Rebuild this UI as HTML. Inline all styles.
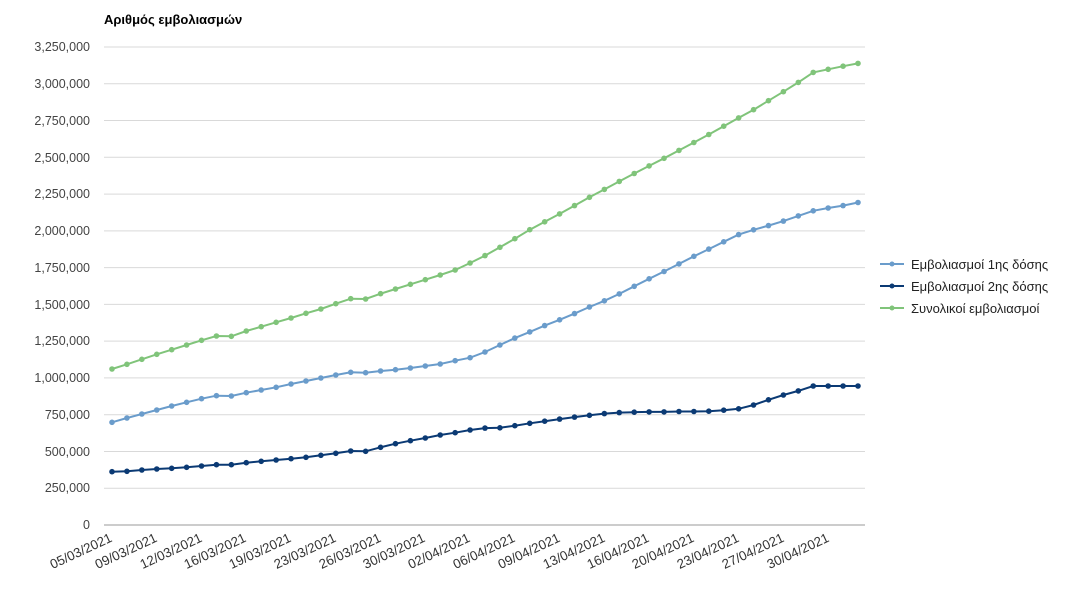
<!DOCTYPE html>
<html><head><meta charset="utf-8"><style>
body{margin:0;background:#fff;}
svg{display:block;font-family:"Liberation Sans",Arial,sans-serif;}
</style></head><body>
<svg id="s" width="1071" height="614" xmlns="http://www.w3.org/2000/svg">
<text x="104" y="24" font-size="13" font-weight="bold" fill="#000">Αριθμός εμβολιασμών</text>
<g id="grid" stroke="#d9d9d9" stroke-width="1"></g>
<g font-size="12.5" fill="#444" text-anchor="end">
<text x="90" y="51">3,250,000</text>
<text x="90" y="88">3,000,000</text>
<text x="90" y="125">2,750,000</text>
<text x="90" y="162">2,500,000</text>
<text x="90" y="198">2,250,000</text>
<text x="90" y="235">2,000,000</text>
<text x="90" y="272">1,750,000</text>
<text x="90" y="309">1,500,000</text>
<text x="90" y="345">1,250,000</text>
<text x="90" y="382">1,000,000</text>
<text x="90" y="419">750,000</text>
<text x="90" y="456">500,000</text>
<text x="90" y="492">250,000</text>
<text x="90" y="529">0</text>
</g>
<line x1="104" y1="525" x2="865" y2="525" stroke="#999" stroke-width="1"/>
<g id="xl" font-size="13.3" fill="#333" text-anchor="end">
<text transform="translate(113,541) rotate(-25)">05/03/2021</text>
<text transform="translate(158,541) rotate(-25)">09/03/2021</text>
<text transform="translate(203,541) rotate(-25)">12/03/2021</text>
<text transform="translate(247,541) rotate(-25)">16/03/2021</text>
<text transform="translate(292,541) rotate(-25)">19/03/2021</text>
<text transform="translate(337,541) rotate(-25)">23/03/2021</text>
<text transform="translate(382,541) rotate(-25)">26/03/2021</text>
<text transform="translate(426,541) rotate(-25)">30/03/2021</text>
<text transform="translate(471,541) rotate(-25)">02/04/2021</text>
<text transform="translate(516,541) rotate(-25)">06/04/2021</text>
<text transform="translate(561,541) rotate(-25)">09/04/2021</text>
<text transform="translate(606,541) rotate(-25)">13/04/2021</text>
<text transform="translate(650,541) rotate(-25)">16/04/2021</text>
<text transform="translate(695,541) rotate(-25)">20/04/2021</text>
<text transform="translate(740,541) rotate(-25)">23/04/2021</text>
<text transform="translate(785,541) rotate(-25)">27/04/2021</text>
<text transform="translate(830,541) rotate(-25)">30/04/2021</text>
</g>
<g id="series"></g>
<g font-size="13" fill="#222">
<line x1="880" y1="264" x2="904" y2="264" stroke="#6a9ccb" stroke-width="2"/><circle cx="892" cy="264" r="2.5" fill="#6a9ccb"/>
<text x="911" y="269">Εμβολιασμοί 1ης δόσης</text>
<line x1="880" y1="286" x2="904" y2="286" stroke="#0b3a74" stroke-width="2"/><circle cx="892" cy="286" r="2.5" fill="#0b3a74"/>
<text x="911" y="291">Εμβολιασμοί 2ης δόσης</text>
<line x1="880" y1="308" x2="904" y2="308" stroke="#80c47a" stroke-width="2"/><circle cx="892" cy="308" r="2.5" fill="#80c47a"/>
<text x="911" y="313">Συνολικοί εμβολιασμοί</text>
</g>
</svg>
<script>
var NS="http://www.w3.org/2000/svg";
var g=document.getElementById('grid');
for(var i=1;i<=13;i++){var y=525-i*36.77;var l=document.createElementNS(NS,'line');l.setAttribute('x1',104);l.setAttribute('x2',865);l.setAttribute('y1',y);l.setAttribute('y2',y);g.appendChild(l);}
var green=[369,364.3,359.3,354.3,349.7,345,340.3,336,336.3,331,326.7,322.3,318,313.3,309,303.7,298.7,299,293.7,289,284.3,279.7,275,270,263,255.6,247.3,238.7,229.7,221.8,213.9,205.6,197.3,189.4,181.4,173.5,165.9,158.3,150.4,142.5,134.5,126.2,117.9,109.7,100.7,91.7,82.4,72.4,69.3,66.2,63.4];
var blue=[422.3,418,414,410,406,402.3,398.7,395.7,396,392.7,390,387.3,384,381,378,375,372.3,372.7,371,369.7,368,366,364,360.7,357.7,352,345,338.1,331.9,325.6,319.8,313.6,307,300.8,293.9,286.3,278.8,271.5,263.9,256.3,249.1,241.8,234.6,229.8,225.6,221.1,215.9,210.8,208,205.6,202.5];
var dark=[471.7,471.3,470,469,468.3,467.3,466,464.7,464.7,462.7,461.3,460,458.7,457.3,455.3,453.3,451,451.3,447.3,443.7,440.7,438,435,432.7,430,428.1,427.8,425.7,423.3,421.2,419.1,417.1,415.3,413.6,412.6,412.2,411.9,411.9,411.5,411.5,411.2,410.2,408.8,405,399.8,395,390.9,386,386,386,386];
var s=document.getElementById('series');
function draw(d,c){var pts=d.map(function(y,i){return (112+i*14.92).toFixed(1)+','+y;}).join(' ');
var p=document.createElementNS(NS,'polyline');p.setAttribute('points',pts);p.setAttribute('fill','none');p.setAttribute('stroke',c);p.setAttribute('stroke-width','2');s.appendChild(p);
d.forEach(function(y,i){var ci=document.createElementNS(NS,'circle');ci.setAttribute('cx',112+i*14.92);ci.setAttribute('cy',y);ci.setAttribute('r',2.8);ci.setAttribute('fill',c);s.appendChild(ci);});}
draw(green,'#80c47a');draw(blue,'#6a9ccb');draw(dark,'#0b3a74');
</script>
</body></html>
